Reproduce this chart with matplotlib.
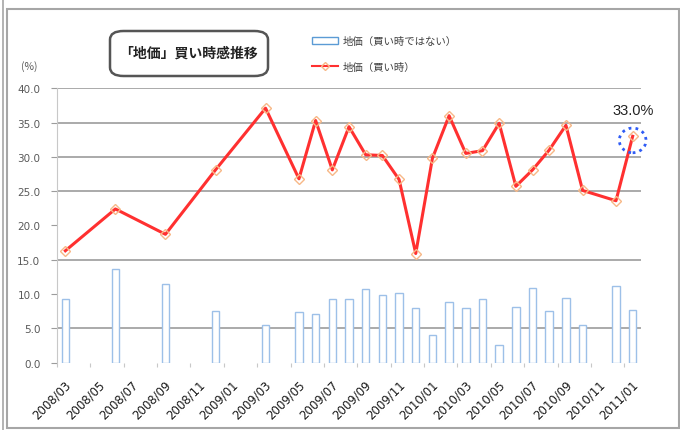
import matplotlib
matplotlib.use("Agg")
import matplotlib.pyplot as plt
from matplotlib.patches import Ellipse, FancyBboxPatch, Rectangle, Patch
from matplotlib.lines import Line2D

plt.rcParams["font.family"] = ["Noto Sans CJK JP", "DejaVu Sans"]

# survey months (Excel date axis, monthly slots, some months missing)
months = ["2008/03", "2008/06", "2008/09", "2008/12", "2009/03", "2009/05",
          "2009/06", "2009/07", "2009/08", "2009/09", "2009/10", "2009/11",
          "2009/12", "2010/01", "2010/02", "2010/03", "2010/04", "2010/05",
          "2010/06", "2010/07", "2010/08", "2010/09", "2010/10", "2010/12",
          "2011/01"]
buy_time = [16.3, 22.4, 18.7, 28.1, 37.1, 26.8, 35.3, 28.1, 34.4, 30.3,
            30.2, 26.7, 15.9, 29.8, 36.0, 30.5, 30.9, 34.9, 25.7, 28.1,
            31.0, 34.6, 25.1, 23.6, 33.0]
not_buy_time = [9.3, 13.6, 11.5, 7.5, 5.5, 7.4, 7.1, 9.3, 9.2, 10.7,
                9.8, 10.2, 7.9, 4.0, 8.8, 7.9, 9.3, 2.6, 8.1, 10.9,
                7.5, 9.4, 5.5, 11.2, 7.7]
tick_labels = ["2008/03", "2008/05", "2008/07", "2008/09", "2008/11",
               "2009/01", "2009/03", "2009/05", "2009/07", "2009/09",
               "2009/11", "2010/01", "2010/03", "2010/05", "2010/07",
               "2010/09", "2010/11", "2011/01"]
y_ticks = [0, 5, 10, 15, 20, 25, 30, 35, 40]
grid_at = [5, 15, 25, 30, 35, 40]


def month_index(s, start="2008/03"):
    y, m = map(int, s.split("/"))
    y0, m0 = map(int, start.split("/"))
    return (y - y0) * 12 + (m - m0)


xs = [month_index(m) for m in months]
tick_pos = [month_index(t) - 0.5 for t in tick_labels]
n_slots = month_index("2011/01") + 1

fig = plt.figure(figsize=(6.8, 4.31), dpi=100)

# outer frame lines (figure pixels)
W, H = 680, 431
border = "#a6a6a6"
fig.add_artist(Line2D([2.5 / W, 2.5 / W], [0, 1], color=border, lw=1.2))
fig.add_artist(Rectangle((7 / W, 1 - 429 / H), 672 / W, 419 / H,
                         transform=fig.transFigure, fill=False,
                         edgecolor=border, lw=1.5))

ax = fig.add_axes([57 / W, 1 - 363.5 / H, 584 / W, 274.2 / H])
ax.set_xlim(-0.5, n_slots - 0.5)
ax.set_ylim(0, 40)

for g in grid_at:
    ax.axhline(g, color="#9c9c9c", lw=1.2, zorder=1)

ax.bar(xs, not_buy_time, width=0.45, facecolor="white",
       edgecolor="#9dc0e8", lw=1.0, zorder=2)
ax.plot(xs, buy_time, color="#ff3030", lw=2.2, zorder=3)
ax.plot(xs, buy_time, ls="none", marker="D", ms=5.5, mfc="none",
        mec="#f7b887", mew=1.0, zorder=4)

# highlight last value
ax.add_patch(Ellipse((xs[-1], buy_time[-1] - 0.6), 1.6, 3.6, fill=False,
                     edgecolor="#2f5cf5", ls=(0, (1, 1.5)), lw=2, zorder=5,
                     clip_on=False))
ax.text(xs[-1], buy_time[-1] + 3.8, f"{buy_time[-1]:.1f}%", ha="center",
        va="center", fontsize=10.5, color="#222222",
        family="Liberation Sans")

ax.set_yticks(y_ticks)
ax.set_yticklabels([f"{v:.1f}" for v in y_ticks], fontsize=7.5,
                   color="#595959", family="DejaVu Sans")
# tick marks on the slot boundaries, labels drawn slightly to the right
ax.set_xticks(tick_pos)
ax.set_xticklabels([])
ax.set_xticks([p + 0.45 for p in tick_pos], minor=True)
ax.set_xticklabels(tick_labels, minor=True, rotation=45, ha="right",
                   rotation_mode="anchor", fontsize=8.5, color="#1a1a1a",
                   family="DejaVu Sans")
ax.tick_params(axis="y", length=4, color="#9c9c9c", pad=8)
ax.tick_params(axis="x", which="major", length=3, color="#c8c8c8")
ax.tick_params(axis="x", which="minor", length=0, pad=11)
for side in ("top", "right", "bottom"):
    ax.spines[side].set_visible(False)
ax.spines["left"].set_color("#c8c8c8")

fig.text(21 / W, 1 - 67 / H, "(%)", fontsize=7.5, color="#595959",
         va="center", ha="left")

# title box
fig.add_artist(FancyBboxPatch((110 / W, 1 - 77 / H), 158 / W, 45 / H,
                              boxstyle="round,pad=0,rounding_size=0.02",
                              transform=fig.transFigure, facecolor="white",
                              edgecolor="#555555", lw=1.8))
fig.text(189 / W, 1 - 54 / H, "「地価」買い時感推移", fontsize=10,
         fontweight="bold", ha="center", va="center", color="#222222")

handles = [Patch(facecolor="white", edgecolor="#5b9bd5", lw=1.0),
           Line2D([], [], color="#ff3030", lw=1.5, marker="D", ms=4,
                  mfc="none", mec="#f7b887")]
fig.legend(handles, ["地価（買い時ではない）", "地価（買い時）"],
           loc="upper left", bbox_to_anchor=(303 / W, 1 - 28 / H),
           frameon=False, fontsize=7.5, handlelength=2.5,
           labelspacing=1.5, handletextpad=0.4, labelcolor="#404040")

fig.savefig("out.png", dpi=100)
